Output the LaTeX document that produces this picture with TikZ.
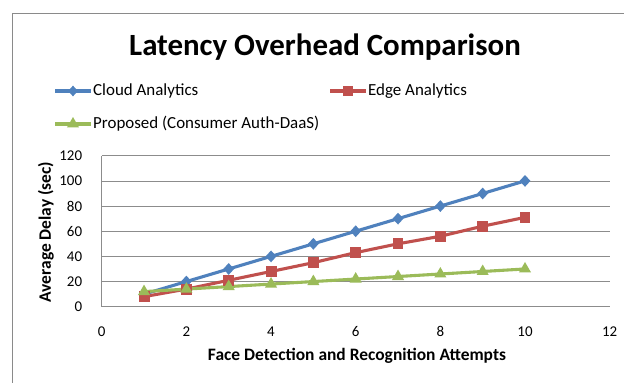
\documentclass[tikz,border=0pt]{standalone}
\usepackage{fontspec}
\setmainfont{Carlito}
\usepackage{xcolor}
\usetikzlibrary{shapes.geometric}
\definecolor{cloudb}{HTML}{4F81BD}
\definecolor{edger}{HTML}{C0504D}
\definecolor{propg}{HTML}{9BBB59}
\definecolor{gridg}{HTML}{8C8C8C}
\definecolor{framg}{HTML}{8A8A8A}
\tikzset{
  series/.style={line width=3.1pt,line join=round},
  mdia/.style={diamond,fill=cloudb,inner sep=0pt,minimum width=11pt,minimum height=12pt},
  msqr/.style={rectangle,fill=edger,inner sep=0pt,minimum size=11pt},
  mtri/.style={isosceles triangle,isosceles triangle apex angle=60,shape border rotate=90,fill=propg,inner sep=0pt,minimum height=10.5pt},
  gline/.style={draw=gridg,line width=0.8pt},
  tick/.style={font=\fontsize{15}{17}\selectfont},
  axt/.style={font=\bfseries\fontsize{17.5}{20}\selectfont},
  leg/.style={font=\fontsize{17}{19}\selectfont,anchor=west,inner sep=0pt},
}
\begin{document}
\begin{tikzpicture}[x=1bp,y=-1bp]
\useasboundingbox (0,0) rectangle (624,382);
\fill[white] (0,0) rectangle (624,382);
\draw[framg,line width=0.9pt] (12,13) rectangle (660,420);
% title and legend
\node[font=\bfseries\fontsize{31}{34}\selectfont] (title) at (325,47) {Latency Overhead Comparison};
\draw[series,cloudb] (55,91) -- (91,91) node[mdia,pos=0.5] (lc) {};
\node[leg] (legc) at (93,91) {Cloud Analytics};
\draw[series,edger] (330,91) -- (366,91) node[msqr,pos=0.5] (le) {};
\node[leg] (lege) at (368,91) {Edge Analytics};
\draw[series,propg] (55,124) -- (91,124) node[mtri,pos=0.5] (lp) {};
\node[leg] (legp) at (93,124) {Proposed (Consumer Auth-DaaS)};
% plot area
\begin{scope}[shift={(101.7,306.7)},x=42.33bp,y=1.258bp]
  \foreach \v in {20,40,...,120}
    \draw[gline] (0,\v) -- (12,\v);
  \draw[gline] (0,0) -- (12,0);
  \draw[gline] (0,0) -- (0,120);
  \foreach \v in {0,20,...,120}
    \node[tick,anchor=east] (y\v) at (-0.38,\v) {\v};
  \foreach \v in {0,2,...,12}
    \node[tick] (x\v) at (\v,-20) {\v};
  \draw[series,cloudb] plot coordinates {(1,10) (2,20) (3,30) (4,40) (5,50) (6,60) (7,70) (8,80) (9,90) (10,100)};
  \draw[series,edger] plot coordinates {(1,8) (2,14) (3,21) (4,28) (5,35) (6,43) (7,50) (8,56) (9,64) (10,71)};
  \draw[series,propg] plot coordinates {(1,12) (2,14) (3,16) (4,18) (5,20) (6,22) (7,24) (8,26) (9,28) (10,30)};
  \foreach \i/\c/\e/\p in {1/10/8/12,2/20/14/14,3/30/21/16,4/40/28/18,5/50/35/20,6/60/43/22,7/70/50/24,8/80/56/26,9/90/64/28,10/100/71/30} {
    \node[mdia] (c\i) at (\i,\c) {};
    \node[msqr] (e\i) at (\i,\e) {};
    \node[mtri] (p\i) at (\i,\p) {};
  }
\end{scope}
\node[axt] (xt) at (357,356) {Face Detection and Recognition Attempts};
\node[axt,rotate=90] (yt) at (46,232) {Average Delay (sec)};
\end{tikzpicture}
\end{document}
